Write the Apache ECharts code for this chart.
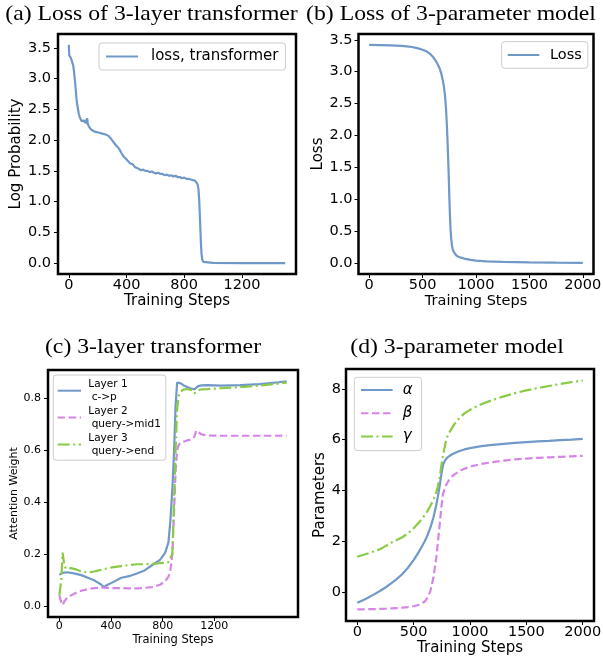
<!DOCTYPE html>
<html>
<head>
<meta charset="utf-8">
<script src="https://cdn.jsdelivr.net/npm/echarts@6/dist/echarts.min.js"></script>
<style>
  html, body { margin: 0; padding: 0; background: #fff; }
  #chart { width: 603px; height: 659px; }
</style>
</head>
<body>
<div id="chart"></div>
<script>
// ---------- panel titles ----------
const titleA = '(a) Loss of 3-layer transformer';
const titleB = '(b) Loss of 3-parameter model';
const titleC = '(c) 3-layer transformer';
const titleD = '(d) 3-parameter model';

// ---------- (a) loss of the 3-layer transformer ----------
const stepsA = [0, 3, 8, 14, 20, 25, 30, 36, 42, 48, 53, 58, 64, 69, 75, 81, 88, 94, 100, 106,
  112, 118, 123, 127, 131, 136, 142, 148, 155, 162, 170, 178, 186, 194, 202, 210, 218, 226, 234, 242,
  250, 258, 266, 274, 282, 290, 298, 306, 314, 322, 330, 338, 346, 354, 362, 370, 378, 386, 394, 402,
  410, 418, 426, 434, 442, 450, 460, 470, 480, 490, 500, 515, 530, 545, 560, 575, 590, 605, 620, 635,
  650, 665, 680, 695, 710, 725, 740, 755, 770, 785, 800, 815, 830, 845, 860, 875, 885, 893, 899, 904,
  908, 912, 916, 920, 925, 932, 945, 1000, 1200, 1500];
const lossA = [3.55, 3.38, 3.35, 3.34, 3.33, 3.31, 3.22, 3.12, 2.98, 2.82, 2.68, 2.58, 2.50, 2.43, 2.38, 2.36, 2.31, 2.34, 2.30, 2.32,
  2.28, 2.33, 2.26, 2.36, 2.28, 2.24, 2.21, 2.19, 2.20, 2.16, 2.17, 2.14, 2.15, 2.13, 2.14, 2.12, 2.13, 2.11, 2.12, 2.10,
  2.11, 2.09, 2.08, 2.07, 2.05, 2.03, 2.00, 1.98, 1.96, 1.93, 1.92, 1.89, 1.86, 1.84, 1.80, 1.78, 1.74, 1.72, 1.70, 1.67,
  1.66, 1.63, 1.62, 1.60, 1.61, 1.58, 1.56, 1.55, 1.54, 1.53, 1.51, 1.52, 1.50, 1.50, 1.48, 1.49, 1.47, 1.46, 1.47, 1.45,
  1.45, 1.43, 1.44, 1.42, 1.43, 1.41, 1.42, 1.40, 1.40, 1.38, 1.39, 1.37, 1.37, 1.36, 1.35, 1.34, 1.32, 1.28, 1.20, 1.02,
  0.80, 0.55, 0.32, 0.15, 0.06, 0.02, 0.005, 0.002, 0.001, 0.0];
const ticksAx = [0, 400, 800, 1200];
const ticksAy = [0, 0.5, 1.0, 1.5, 2.0, 2.5, 3.0, 3.5];

// ---------- (b) loss of the 3-parameter model ----------
const stepsB = [0, 100, 200, 300, 350, 400, 450, 500, 540, 570, 600, 620, 640, 660, 675, 690, 700, 710, 718, 725,
  732, 738, 744, 750, 756, 762, 768, 775, 782, 790, 800, 815, 835, 860, 900, 950, 1000, 1100, 1250, 1500,
  1750, 2000];
const lossB = [3.42, 3.418, 3.413, 3.405, 3.398, 3.387, 3.370, 3.345, 3.315, 3.28, 3.225, 3.18, 3.12, 3.05, 2.97, 2.86, 2.76, 2.62, 2.45, 2.25,
  1.98, 1.70, 1.40, 1.05, 0.75, 0.52, 0.37, 0.28, 0.22, 0.18, 0.15, 0.12, 0.10, 0.085, 0.065, 0.05, 0.04, 0.028, 0.018, 0.01,
  0.006, 0.004];
const ticksBx = [0, 500, 1000, 1500, 2000];
const ticksBy = [0, 0.5, 1.0, 1.5, 2.0, 2.5, 3.0, 3.5];

// ---------- (c) attention weights of the 3-layer transformer ----------
const stepsC = [0, 15, 25, 40, 60, 90, 130, 170, 220, 270, 320, 345, 370, 420, 480, 540, 600, 660, 720, 780,
  820, 845, 860, 875, 888, 900, 912, 925, 940, 960, 990, 1020, 1045, 1060, 1075, 1100, 1150, 1250, 1400, 1550,
  1700, 1760];
const layer1C = [0.119, 0.124, 0.127, 0.128, 0.129, 0.127, 0.123, 0.118, 0.108, 0.098, 0.083, 0.072, 0.080, 0.092, 0.108, 0.114, 0.124, 0.136, 0.157, 0.177,
  0.205, 0.245, 0.33, 0.45, 0.59, 0.77, 0.86, 0.865, 0.857, 0.850, 0.843, 0.837, 0.834, 0.838, 0.846, 0.849, 0.850, 0.848, 0.850, 0.854,
  0.861, 0.865];
const layer2C = [0.04, 0.012, 0.003, 0.018, 0.030, 0.040, 0.050, 0.058, 0.064, 0.068, 0.070, 0.070, 0.069, 0.068, 0.068, 0.067, 0.067, 0.069, 0.072, 0.081,
  0.095, 0.112, 0.138, 0.20, 0.36, 0.52, 0.60, 0.620, 0.628, 0.632, 0.637, 0.641, 0.650, 0.675, 0.668, 0.660, 0.656, 0.655, 0.655, 0.655,
  0.655, 0.656];
const layer3C = [0.04, 0.10, 0.205, 0.15, 0.142, 0.145, 0.140, 0.132, 0.128, 0.132, 0.138, 0.141, 0.144, 0.149, 0.153, 0.157, 0.160, 0.160, 0.161, 0.164,
  0.166, 0.168, 0.172, 0.20, 0.40, 0.60, 0.76, 0.81, 0.825, 0.833, 0.835, 0.832, 0.818, 0.813, 0.830, 0.834, 0.835, 0.838, 0.842, 0.848,
  0.856, 0.860];
const namesC = ['Layer 1\n c->p', 'Layer 2\n query->mid1', 'Layer 3\n query->end'];
const ticksCx = [0, 400, 800, 1200];
const ticksCy = [0, 0.2, 0.4, 0.6, 0.8];

// ---------- (d) parameters of the 3-parameter model ----------
const stepsD = [0, 50, 100, 150, 200, 250, 300, 350, 400, 450, 500, 550, 600, 625, 650, 675, 700, 715, 730, 745,
  760, 775, 790, 810, 830, 860, 900, 950, 1000, 1100, 1200, 1300, 1400, 1500, 1600, 1700, 1800, 1900, 2000];
const alphaD = [-0.43, -0.33, -0.22, -0.10, 0.03, 0.17, 0.33, 0.50, 0.70, 0.95, 1.25, 1.60, 2.00, 2.25, 2.55, 2.92, 3.40, 3.75, 4.15, 4.60,
  4.98, 5.15, 5.25, 5.33, 5.39, 5.46, 5.54, 5.61, 5.66, 5.74, 5.79, 5.83, 5.87, 5.90, 5.93, 5.95, 5.98, 6.00, 6.03];
const betaD = [-0.69, -0.688, -0.685, -0.68, -0.675, -0.668, -0.655, -0.64, -0.625, -0.60, -0.57, -0.51, -0.38, -0.22, 0.05, 0.55, 1.30, 1.95, 2.60, 3.30,
  3.85, 4.05, 4.22, 4.38, 4.50, 4.62, 4.74, 4.85, 4.93, 5.04, 5.11, 5.17, 5.22, 5.25, 5.28, 5.30, 5.32, 5.34, 5.36];
const gammaD = [1.38, 1.45, 1.52, 1.60, 1.68, 1.80, 1.93, 2.04, 2.15, 2.31, 2.50, 2.75, 3.03, 3.20, 3.40, 3.62, 3.92, 4.15, 4.50, 4.95,
  5.35, 5.70, 6.02, 6.22, 6.38, 6.60, 6.82, 7.03, 7.17, 7.39, 7.56, 7.70, 7.83, 7.94, 8.03, 8.11, 8.19, 8.26, 8.33];
const namesD = ['α', 'β', 'γ'];
const ticksDx = [0, 500, 1000, 1500, 2000];
const ticksDy = [0, 2, 4, 6, 8];

// ---------- styling ----------
const SANS = 'DejaVu Sans';
const BLUE = '#7099c8';
const PINK = '#d585e6';
const GREEN = '#8acb45';
const DASH = [7.5, 3.5];
const DASHDOT = [12, 3.5, 2, 3.5];

const zip = (xs, ys) => xs.map((x, i) => [x, ys[i]]);

function grid(left, top, width, height) {
  return {
    left, top, width, height,
    show: true, borderColor: '#000', borderWidth: 2.5,
    backgroundColor: 'transparent', containLabel: false, outerBoundsMode: 'none'
  };
}

function axis(gridIndex, min, max, ticks, fmt, o) {
  return {
    type: 'value', gridIndex, min, max,
    axisLine: { show: false, onZero: false },
    axisTick: { show: true, length: 4, customValues: ticks, lineStyle: { color: '#000', width: 1 } },
    axisLabel: {
      customValues: ticks, margin: o.margin, fontSize: o.fs, fontFamily: SANS, color: '#000',
      formatter: v => fmt(v)
    },
    splitLine: { show: false },
    name: o.name, nameLocation: 'middle', nameGap: o.gap,
    nameTextStyle: { fontSize: o.nfs, fontFamily: SANS, color: '#000' }
  };
}

const f0 = v => String(Math.round(v));
const f1 = v => v.toFixed(1);

function line(name, xi, xs, ys, color, type) {
  return {
    type: 'line', name, xAxisIndex: xi, yAxisIndex: xi,
    data: zip(xs, ys), symbol: 'none',
    lineStyle: { color, width: 2.2, type: type || 'solid' },
    itemStyle: { color }, emphasis: { disabled: true }
  };
}

// legend entries show only the line sample (the marker is made invisible)
function legend(names, o) {
  return {
    data: names, orient: 'vertical', left: o.left, top: o.top,
    itemWidth: o.iw, itemHeight: o.ih, itemGap: o.gap, padding: o.pad,
    backgroundColor: 'rgba(255,255,255,0.85)', borderColor: '#cccccc', borderWidth: 1, borderRadius: 3,
    selectedMode: false,
    itemStyle: { color: 'rgba(0,0,0,0)', borderWidth: 0, opacity: 0 },
    textStyle: Object.assign({ fontFamily: SANS, color: '#000', fontSize: o.fs, lineHeight: o.lh, padding: [0, 0, 0, o.tp] }, o.extra || {})
  };
}

function title(text, x, y) {
  return {
    type: 'text', x, y, scaleX: 1.13,
    style: { text, font: '21px "Liberation Serif"', fill: '#000', textAlign: 'center', textVerticalAlign: 'middle', verticalAlign: 'middle' }
  };
}

const chart = echarts.init(document.getElementById('chart'), null, { renderer: 'canvas' });
chart.setOption({
  animation: false,
  backgroundColor: '#fff',
  graphic: [
    title(titleA, 151.5, 14),
    title(titleB, 451, 14),
    title(titleC, 153, 347),
    title(titleD, 457, 347)
  ],
  grid: [
    grid(58, 34, 238, 240),
    grid(358.5, 34, 235, 240),
    grid(48, 370, 250, 247),
    grid(346, 369, 248, 252)
  ],
  xAxis: [
    axis(0, -75, 1575, ticksAx, f0, { margin: 4, fs: 14.5, name: 'Training Steps', gap: 19.5, nfs: 15 }),
    axis(1, -100, 2100, ticksBx, f0, { margin: 4, fs: 14.5, name: 'Training Steps', gap: 18, nfs: 14.5 }),
    axis(2, -88, 1848, ticksCx, f0, { margin: 4, fs: 11, name: 'Training Steps', gap: 17, nfs: 11.5 }),
    axis(3, -100, 2100, ticksDx, f0, { margin: 4, fs: 14.5, name: 'Training Steps', gap: 20, nfs: 15 })
  ],
  yAxis: [
    axis(0, -0.1775, 3.7275, ticksAy, f1, { margin: 7, fs: 14.5, name: 'Log Probability', gap: 33, nfs: 15 }),
    axis(1, -0.171, 3.591, ticksBy, f1, { margin: 6, fs: 14.5, name: 'Loss', gap: 29, nfs: 15 }),
    axis(2, -0.0433, 0.9083, ticksCy, f1, { margin: 7, fs: 11, name: 'Attention Weight', gap: 27, nfs: 11 }),
    axis(3, -1.15, 8.78, ticksDy, f0, { margin: 5, fs: 14.5, name: 'Parameters', gap: 16, nfs: 15 })
  ],
  legend: [
    legend(['loss, transformer'], { left: 99, top: 43, iw: 32, ih: 14, gap: 0, pad: [5, 7, 5, 6], fs: 15, lh: 17, tp: 8 }),
    legend(['Loss'], { left: 501.7, top: 41.7, iw: 31.6, ih: 14, gap: 0, pad: [5, 6, 5, 5], fs: 14.5, lh: 16.6, tp: 5.7 }),
    legend(namesC, { left: 53.3, top: 375, iw: 23.3, ih: 12, gap: 1.5, pad: [3, 5, 3, 3.4], fs: 10.5, lh: 12.7, tp: 2.3 }),
    legend(namesD, { left: 354.3, top: 377.3, iw: 31.7, ih: 14, gap: 5.3, pad: [3.7, 9, 5, 5.7], fs: 15, lh: 18, tp: 5, extra: { fontStyle: 'italic' } })
  ],
  series: [
    line('loss, transformer', 0, stepsA, lossA, BLUE),
    line('Loss', 1, stepsB, lossB, BLUE),
    line(namesC[0], 2, stepsC, layer1C, BLUE),
    line(namesC[1], 2, stepsC, layer2C, PINK, DASH),
    line(namesC[2], 2, stepsC, layer3C, GREEN, DASHDOT),
    line(namesD[0], 3, stepsD, alphaD, BLUE),
    line(namesD[1], 3, stepsD, betaD, PINK, DASH),
    line(namesD[2], 3, stepsD, gammaD, GREEN, DASHDOT)
  ]
});
</script>
</body>
</html>
